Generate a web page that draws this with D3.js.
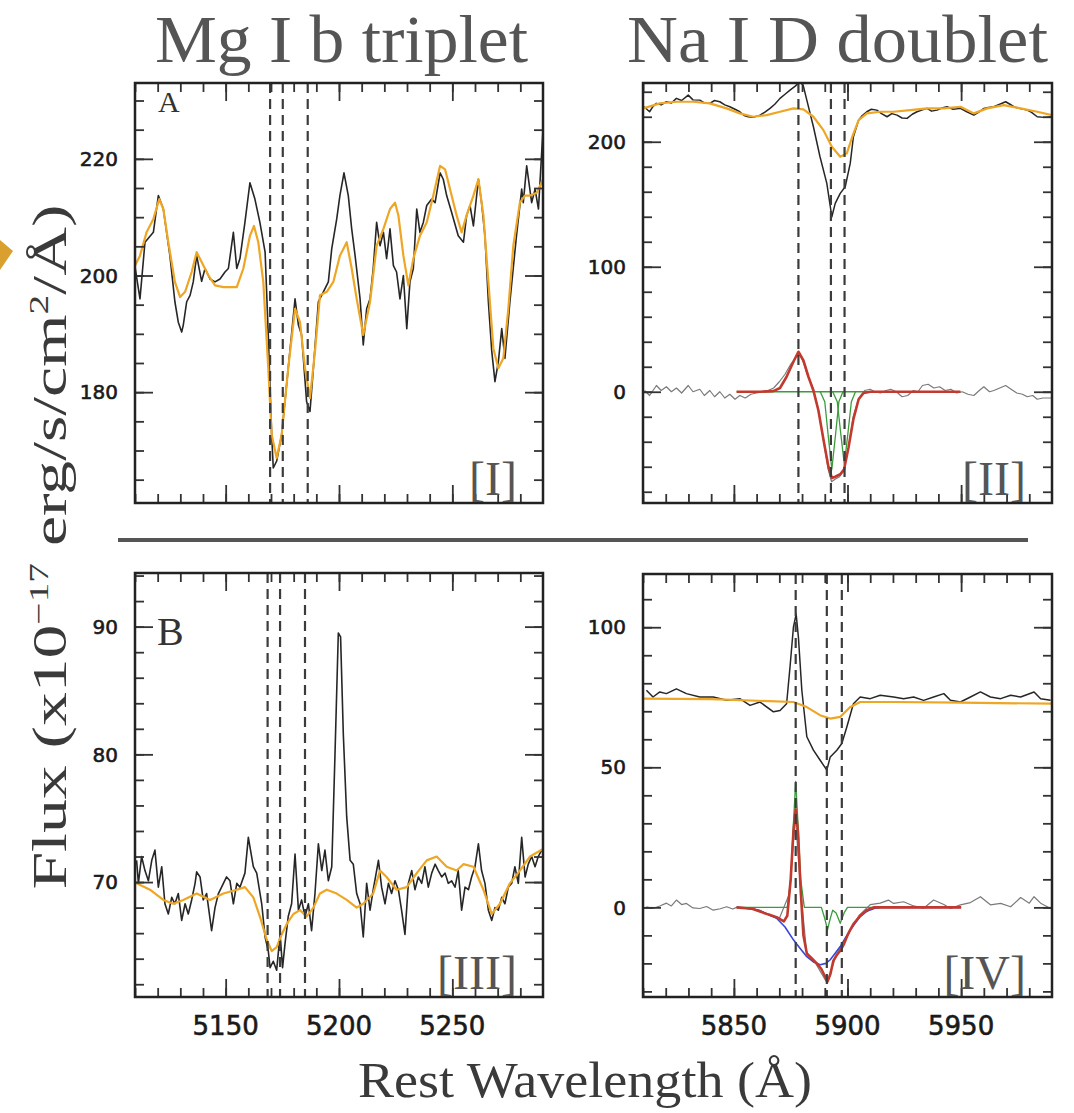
<!DOCTYPE html>
<html>
<head>
<meta charset="utf-8">
<script src="https://cdn.jsdelivr.net/npm/d3@7"></script>
<style>
  body { margin: 0; background: #fff; }
</style>
</head>
<body>
<div id="chart"></div>
<script>
// ---- data: [wavelength (A), flux] ----

// Panel I  (galaxy A, Mg I b region)
const mgObsA = [[5110,201.5],[5112.2,196.0],[5114.4,205.7],[5118.1,207.4],[5120.3,213.7],[5122.5,211.4],[5125.4,203.4],
  [5127.6,195.5],[5129.1,192.0],[5130.6,190.3],[5131.3,191.5],[5132.8,195.5],[5134.3,196.6],[5135.7,198.9],[5137.2,203.4],
  [5139.4,199.0],[5140.9,201.2],[5143.1,199.4],[5145.3,198.9],[5147.5,199.4],[5149.7,200.6],[5151.2,201.2],[5153.4,207.4],
  [5154.9,201.2],[5156.3,202.9],[5158.5,209.1],[5160.7,215.9],[5162.9,213.1],[5165.1,209.1],[5167.4,204.0],[5168.8,189.8],
  [5170.3,172.7],[5171.0,167.0],[5172.5,168.2],[5174.7,172.7],[5177.6,184.1],[5180.6,196.0],[5182.1,191.5],[5183.5,189.8],
  [5185.7,178.4],[5187.2,176.7],[5188.7,184.1],[5190.9,195.5],[5193.1,197.2],[5195.3,198.9],[5196.8,204.6],[5199.0,209.7],
  [5200.4,213.7],[5202.2,217.6],[5204.1,213.7],[5205.6,208.0],[5207.1,203.4],[5209.3,196.0],[5210.7,188.1],[5212.2,194.3],
  [5213.7,196.0],[5215.1,201.2],[5216.6,209.1],[5218.1,205.1],[5219.6,207.4],[5221.0,202.9],[5222.5,208.0],[5224.0,201.7],
  [5225.4,200.6],[5226.9,196.0],[5228.4,200.0],[5229.9,190.9],[5231.3,198.9],[5232.8,201.2],[5234.3,211.4],[5235.7,207.4],
  [5237.2,209.1],[5238.7,212.0],[5240.9,213.1],[5242.4,212.5],[5244.6,217.6],[5246.0,216.5],[5247.5,213.7],[5249.7,210.8],
  [5252.6,206.8],[5254.9,205.7],[5256.3,210.3],[5257.8,212.0],[5259.3,208.5],[5261.5,216.5],[5262.9,212.5],[5264.4,206.8],
  [5265.9,195.5],[5267.4,187.0],[5268.8,181.8],[5270.3,185.2],[5271.8,190.9],[5273.2,185.8],[5275.4,195.5],[5278.3,206.8],
  [5280.6,214.8],[5281.3,212.5],[5282.8,218.8],[5285.0,212.5],[5286.5,214.8],[5288.0,211.4],[5289.4,221.0],[5290,225.0]];

const mgModelA = [[5110,201.7],[5112.2,203.4],[5115.1,207.4],[5118.1,209.7],[5120.7,213.1],[5122.5,211.4],[5124.7,205.7],
  [5127.6,198.9],[5129.9,196.3],[5132.1,197.2],[5135.0,200.6],[5137.2,204.0],[5139.4,202.3],[5142.4,200.0],[5145.3,198.3],
  [5149.0,198.0],[5154.9,198.0],[5157.8,201.2],[5160.7,206.8],[5162.5,208.5],[5164.4,205.7],[5166.6,198.9],[5168.8,184.1],
  [5170.3,172.7],[5172.5,168.7],[5174.7,172.7],[5177.6,184.1],[5180.6,194.3],[5182.8,192.0],[5185.0,184.1],[5187.2,179.0],
  [5189.4,187.0],[5191.6,196.6],[5194.6,197.2],[5197.5,198.9],[5200.4,203.4],[5203.4,205.7],[5205.6,201.2],[5207.8,196.0],
  [5210.7,189.8],[5213.7,195.5],[5216.6,205.1],[5219.6,208.0],[5222.5,211.4],[5224.7,212.5],[5226.2,210.3],[5228.4,203.4],
  [5230.6,198.3],[5232.8,202.9],[5235.7,206.8],[5238.7,209.1],[5241.6,213.7],[5244.6,218.8],[5246.8,218.2],[5249.0,214.8],
  [5251.9,210.3],[5254.1,207.4],[5256.3,210.3],[5259.3,213.7],[5261.5,216.5],[5263.7,210.3],[5265.9,198.9],[5268.1,187.5],
  [5270.3,184.1],[5272.5,185.8],[5274.7,194.3],[5276.9,205.1],[5279.8,212.5],[5282.0,213.7],[5284.3,213.7],[5287.3,214.2],
  [5290,216.5]];

const mgLinesA = [5169.6, 5175.2, 5186.2];

// Panel II  (galaxy A, Na I D region)
const naObsA = [[5810.5,228],[5812.9,224],[5814.5,228.5],[5815.9,230.7],[5818,229.5],[5820.3,232],[5822.5,231],[5824.7,234.7],
  [5827,233],[5829.9,237.3],[5832,233.5],[5835,233.3],[5837,231],[5839.4,230.7],[5841.5,233],[5843.8,232],[5846,229.5],
  [5848.2,228],[5850.5,226],[5852.6,224],[5854.5,221],[5856.3,220],[5858.5,219.5],[5861.5,221.3],[5863.5,223.5],[5865.9,226.7],
  [5868,230],[5870.3,234.7],[5872.5,238],[5874.7,241.3],[5877,244.5],[5879.1,248],[5880.5,245],[5882.1,233.3],[5885,212],
  [5887.9,188],[5890.9,166.7],[5893.1,140],[5894.6,150.7],[5896.8,158.7],[5899,164],[5901.2,182.7],[5902.6,204],[5904.9,217.3],
  [5906.5,221],[5908.5,224],[5910.5,226],[5912.9,225.3],[5915,222.5],[5917.4,220],[5919.5,222.5],[5921.8,221.3],[5924,219],
  [5926.2,218.7],[5928.5,222],[5930.6,224],[5933,225.5],[5935,226.7],[5937,224.5],[5939.4,225.3],[5941.5,227],[5943.8,228],
  [5946.5,226],[5949.7,226.7],[5952.5,224],[5955.6,221.3],[5958,224],[5960,226.7],[5962,227.5],[5964.4,228],[5967,230],
  [5969.6,232],[5971.5,230],[5973.2,228],[5976,226.5],[5979.1,225.3],[5981,223.5],[5983.5,220],[5986.5,219.5],[5990,220]];

const naModelA = [[5810,226.7],[5817.4,230.7],[5824.7,232],[5832.1,232],[5839.4,230.7],[5846.8,226.7],[5852.6,222.7],
  [5858.5,220],[5864.4,221.3],[5870.3,224],[5876.2,226.7],[5880.6,225.9],[5885,220],[5889.4,209.3],[5893.1,196],[5896.8,188],
  [5899.7,190.7],[5902.1,204],[5904.9,217.3],[5908.5,222.7],[5914.4,224],[5920.3,224],[5927.6,225.3],[5935,226.7],
  [5942.4,226.7],[5949.7,228],[5955.6,222.7],[5961.5,226.7],[5968.8,229.3],[5976.2,226.7],[5983.5,224],[5990,221.3]];

const naResidA = [[5810.7,1],[5812.9,-3],[5815.9,5],[5818,1],[5820.3,4],[5822.5,0],[5824.7,3],[5827,-1],[5829.9,5],[5832,0],
  [5835,2],[5837,-3],[5839.4,1],[5841.5,-4],[5843.8,0],[5846,-5],[5848.2,-2],[5850.5,-6],[5852.6,-3],[5855,-5],[5857.5,-2],
  [5860,-1],[5862.5,0],[5865,1],[5867.5,3],[5870,8],[5872.5,14],[5875,22],[5877.5,28],[5879,30],[5880.5,24],[5882.5,13],
  [5885,2],[5887,-13],[5889.5,-40],[5891.5,-62],[5893,-72],[5894.5,-70],[5896.5,-68],[5898.5,-63],[5900.5,-44],[5902.5,-20],
  [5905,-5],[5907.5,1],[5910,2],[5912,0],[5914.5,-1],[5917,1],[5919,2],[5921.5,0],[5924,-4],[5926.5,-3],[5929,1],[5931,0],
  [5933,5],[5935.5,6],[5938,3],[5940.5,4],[5943,1],[5945.5,2],[5948,-1],[5950.5,0],[5953,-2],[5955.6,-3],[5958,1],[5960,4],
  [5962.5,0],[5964.4,1],[5967,3],[5969.6,5],[5972,2],[5974.5,-1],[5977,-2],[5979.1,-4],[5981.5,-3],[5983.5,-6],[5986,-5],
  [5990,-5]];

const naFitA = [[5851.2,0],[5861.5,0],[5867.4,0.5],[5870.3,3],[5873.2,12],[5876.2,24],[5878.4,32],[5880.6,25],[5882.8,12],
  [5885,1],[5887.2,-15],[5889.4,-38],[5891.6,-60],[5893.1,-69],[5894.6,-68],[5896.8,-66],[5898.5,-62],[5900.4,-45],
  [5902.6,-22],[5904.9,-6],[5907.1,-1],[5910,0],[5949.7,0]];

const naCompBaseA = [[5851.2,0],[5949.7,0]];
const naCompD2A = [[5888,0],[5890,-8],[5891.5,-35],[5893.1,-62],[5894.7,-35],[5896.2,-8],[5898,0]];
const naCompD1A = [[5893.5,0],[5895.5,-8],[5897,-33],[5898.6,-58],[5900.2,-33],[5901.7,-8],[5903.5,0]];

const naLinesA = [5878.4, 5892.7, 5898.7];

// Panel III  (galaxy B, Mg I b region)
const mgObsB = [[5110.7,71.7],[5111.5,69.9],[5112.9,72.0],[5114.4,70.9],[5115.9,70.1],[5117.4,71.7],[5118.8,72.5],[5120.3,69.6],
  [5121.8,71.2],[5123.2,68.3],[5124.7,67.5],[5126.2,68.8],[5127.6,68.3],[5129.1,69.1],[5130.6,67.0],[5132.1,68.3],[5133.5,67.5],
  [5135.0,68.6],[5136.5,69.9],[5137.2,70.8],[5138.7,70.4],[5140.1,68.6],[5141.6,69.1],[5143.8,66.2],[5145.3,68.0],[5146.8,69.1],
  [5149.0,69.9],[5150.4,70.4],[5151.9,70.1],[5153.4,68.3],[5154.9,69.9],[5156.3,69.6],[5158.5,70.7],[5160.0,73.5],[5162.2,71.2],
  [5163.7,70.7],[5165.9,68.3],[5167.4,65.7],[5168.8,64.6],[5169.6,63.3],[5171.0,63.8],[5172.5,63.1],[5174.0,65.9],[5175.1,63.3],
  [5176.2,65.2],[5177.6,67.3],[5179.1,68.3],[5180.6,72.2],[5182.1,67.8],[5183.5,68.6],[5185.0,67.3],[5186.5,68.3],[5187.9,66.2],
  [5189.4,69.1],[5190.9,73.0],[5192.4,70.9],[5193.8,72.5],[5195.3,70.1],[5196.8,71.2],[5198.2,79.8],[5199.7,89.5],[5200.7,89.2],
  [5201.9,81.6],[5203.4,75.1],[5204.9,71.7],[5206.3,71.4],[5207.8,69.1],[5209.3,68.3],[5210.7,65.7],[5212.2,69.9],[5213.7,67.8],
  [5215.1,69.4],[5217.4,71.7],[5218.8,69.6],[5220.3,68.3],[5221.8,69.9],[5223.2,69.1],[5224.7,70.1],[5226.2,69.4],[5227.6,67.8],
  [5229.1,65.9],[5230.6,69.9],[5232.1,70.9],[5233.5,69.4],[5235.0,70.4],[5236.5,69.9],[5237.9,71.2],[5239.4,69.6],[5240.9,70.7],
  [5242.4,71.4],[5243.8,70.9],[5245.3,70.4],[5246.8,70.7],[5248.2,69.9],[5249.7,70.1],[5251.2,69.6],[5252.6,70.9],[5254.1,67.8],
  [5255.6,69.6],[5257.1,69.4],[5258.5,70.4],[5260.0,71.2],[5261.5,73.0],[5262.9,70.9],[5264.4,69.9],[5265.9,67.8],[5267.4,67.0],
  [5268.8,68.0],[5270.3,67.8],[5271.8,68.8],[5273.2,68.3],[5274.7,69.6],[5276.2,69.9],[5277.6,71.2],[5279.1,69.9],[5280.6,73.5],
  [5282.1,70.4],[5283.5,71.4],[5285.0,72.0],[5286.5,71.2],[5287.9,72.0],[5289.4,72.5]];

const mgModelB = [[5110.7,69.9],[5116.6,69.4],[5122.5,68.6],[5126.9,68.3],[5131.3,68.6],[5137.2,69.1],[5143.1,68.6],[5149.0,69.1],
  [5154.9,69.4],[5158.5,69.6],[5162.2,68.8],[5165.1,67.3],[5168.1,65.5],[5170.3,64.6],[5172.5,64.9],[5174.7,65.9],[5176.9,66.7],
  [5179.9,67.5],[5182.8,67.8],[5185.7,67.3],[5188.7,68.0],[5191.6,69.1],[5194.6,69.4],[5199.0,69.1],[5203.4,68.6],[5207.8,68.0],
  [5210.7,68.3],[5215.1,69.1],[5218.1,70.9],[5221.0,70.4],[5225.4,69.4],[5229.9,69.6],[5234.3,70.7],[5238.7,71.7],[5243.1,72.0],
  [5247.5,71.2],[5251.9,70.9],[5254.9,71.4],[5259.3,71.2],[5263.7,69.4],[5267.4,67.5],[5271.0,68.3],[5275.4,69.9],[5279.8,70.9],
  [5284.3,72.0],[5290,72.6]];

const mgLinesB = [5168.5, 5174.0, 5185.0];

// Panel IV  (galaxy B, Na I D region)
const naObsB = [[5811.5,77.5],[5814.4,75.1],[5817.4,76.9],[5820.3,76.3],[5824.7,78.0],[5829.1,76.3],[5835,75.1],[5840.9,75.1],
  [5846.8,73.9],[5852.6,74.5],[5857.1,72.1],[5861.5,73.3],[5867.4,69.8],[5870.3,70.3],[5873.2,72.7],[5874.7,85.8],[5876.2,100.0],
  [5877.4,104.7],[5878.4,96.4],[5879.9,77.5],[5882.1,60.9],[5885,56.1],[5887.9,52.6],[5890.9,49.0],[5892.4,53.7],[5895.3,56.1],
  [5897.5,58.5],[5899.7,64.4],[5902.6,72.7],[5905.6,75.1],[5910,74.5],[5914.4,75.7],[5920.3,75.1],[5924.7,74.5],[5929.1,75.1],
  [5933.5,73.9],[5937.9,75.1],[5942.4,76.3],[5945.3,73.9],[5949.7,73.3],[5954.1,75.1],[5958.5,76.9],[5962.9,75.1],[5967.4,74.5],
  [5971.8,75.7],[5976.2,75.1],[5982.1,76.9],[5985,74.5],[5989.4,73.9]];

const naModelB = [[5810,74.5],[5840,74.3],[5876.2,73.3],[5882.1,71.5],[5887.9,68.6],[5892.4,67.4],[5896.8,68.0],[5901.2,71.5],
  [5905.6,73.3],[5920.3,73.3],[5950,73.1],[5990,72.7]];

const naResidB = [[5811.5,0.2],[5814.4,-0.4],[5817.4,0.5],[5820.3,1.5],[5822.5,0.5],[5824.7,2.6],[5827,1],[5829.1,1.4],
  [5832,-0.2],[5835,-0.4],[5838,0.3],[5840.9,-1],[5844,-0.5],[5846.8,0.2],[5849.5,-0.6],[5851.2,0],[5856,-0.5],[5861.5,-1],
  [5866,-3],[5870,-4],[5874.5,5],[5877,33],[5879.5,5],[5882,-16],[5886,-20],[5891,-27],[5895,-17],[5900,-10],[5905,-3],
  [5910,1],[5914.4,1.5],[5918,2.6],[5920.3,1.4],[5924.7,2],[5929.1,0.5],[5933.5,-0.3],[5937.9,2.6],[5942.4,1],[5945.3,-0.4],
  [5949.7,0.9],[5954.1,1.7],[5958.5,3.8],[5962.9,0.9],[5967.4,1.4],[5971.8,0.2],[5976.2,3.5],[5980,1.5],[5982.1,3.8],[5985,1.5],
  [5989.4,-0.4]];

const naFitB = [[5851.2,0],[5858,-0.5],[5861.5,-1.5],[5865,-2.5],[5868.8,-3.5],[5872,-5],[5873.5,-3],[5875,10],[5876.2,27],
  [5877.2,35],[5878.2,27],[5879.4,6],[5880.6,-10],[5882.1,-16.5],[5884,-18],[5886.5,-20],[5888.5,-22],[5890,-24.5],
  [5891.2,-26.5],[5892.4,-24],[5893.8,-19],[5895.3,-17],[5896.8,-15.5],[5898.5,-13],[5900,-10],[5901.2,-8],[5902.6,-6],
  [5905.6,-3],[5908.5,-1],[5911.5,0],[5950,0]];

const naBroadB = [[5851.2,0],[5858.5,-0.5],[5861.5,-1.3],[5865,-2.5],[5868.8,-3.9],[5872.5,-7],[5876.2,-11.6],[5879,-14.5],
  [5882.1,-17.6],[5885,-19.5],[5888,-20.5],[5890.5,-20],[5892.4,-18.7],[5894.5,-16.5],[5896.8,-14],[5899,-11],[5901.2,-8.1],
  [5903.5,-5.5],[5905.6,-3.3],[5908,-1.7],[5910,-0.9],[5912,-0.3],[5915,0],[5950,0]];

const naCompB = [[5851.2,0],[5873.5,0],[5875,10],[5876.2,30],[5877.2,45],[5878.2,30],[5879.4,10],[5881,0],[5888.5,0],
  [5890,-4],[5891.2,-8],[5892.4,-4],[5893.5,-1],[5895,-2],[5896.8,-5.7],[5898.5,-2],[5900,0],[5950,0]];

const naLinesB = [5877.2, 5890.9, 5897.5];

// axis ticks
const mgXTicks = [5150, 5200, 5250];
const naXTicks = [5850, 5900, 5950];
const mgAYTicks = [180, 200, 220];
const naAYTicks = [0, 100, 200];
const mgBYTicks = [70, 80, 90];
const naBYTicks = [0, 50, 100];

// ---- drawing ----
const colors = { obs: '#262626', model: '#eea624', resid: '#7a7a7a', fit: '#c23a2e', comp: '#3a9c3a', broad: '#3547d8' };

const svg = d3.select('#chart')
    .append('svg')
    .attr('width', 1074)
    .attr('height', 1113);

function drawPanel(p) {
    const x = d3.scaleLinear().domain(p.xDomain).range([p.left, p.right]);
    const y = d3.scaleLinear().domain(p.yDomain).range([p.bottom, p.top]);
    const w = p.right - p.left, h = p.bottom - p.top;

    svg.append('clipPath').attr('id', 'clip-' + p.id)
        .append('rect')
        .attr('x', p.left).attr('y', p.top).attr('width', w).attr('height', h);

    const plot = svg.append('g').attr('clip-path', 'url(#clip-' + p.id + ')');
    const line = d3.line().x(d => x(d[0])).y(d => y(d[1]));

    p.series.forEach(s => {
        plot.append('path')
            .datum(s.data)
            .attr('d', line)
            .attr('fill', 'none')
            .attr('stroke', s.color)
            .attr('stroke-width', s.width)
            .attr('stroke-linejoin', 'round');
    });

    plot.selectAll('.marker')
        .data(p.lines)
        .enter().append('line')
        .attr('x1', d => x(d)).attr('x2', d => x(d))
        .attr('y1', p.top).attr('y2', p.bottom)
        .attr('stroke', '#3c3c3c')
        .attr('stroke-width', 2.2)
        .attr('stroke-dasharray', '10,6');

    // ticks on all four sides, pointing inward
    const xMinor = d3.range(Math.ceil(p.xDomain[0] / 10) * 10, p.xDomain[1], 10);
    const yMinor = d3.range(Math.ceil(p.yDomain[0] / p.yStep) * p.yStep, p.yDomain[1], p.yStep);
    const axes = [
        [d3.axisBottom(x), 'translate(0,' + p.bottom + ')', xMinor, p.xTicks],
        [d3.axisTop(x), 'translate(0,' + p.top + ')', xMinor, p.xTicks],
        [d3.axisLeft(y), 'translate(' + p.left + ',0)', yMinor, p.yTicks],
        [d3.axisRight(y), 'translate(' + p.right + ',0)', yMinor, p.yTicks]
    ];
    axes.forEach(a => {
        [[a[2], 9], [a[3], 18]].forEach(t => {
            const ax = svg.append('g')
                .attr('transform', a[1])
                .call(a[0].tickValues(t[0]).tickSize(-t[1]).tickSizeOuter(0).tickFormat(''));
            ax.select('.domain').remove();
            ax.selectAll('line').attr('stroke', '#333').attr('stroke-width', 1.8);
        });
    });

    svg.append('rect')
        .attr('x', p.left).attr('y', p.top).attr('width', w).attr('height', h)
        .attr('fill', 'none').attr('stroke', '#222').attr('stroke-width', 2.5);

    svg.append('g').selectAll('text')
        .data(p.yTicks)
        .enter().append('text')
        .attr('x', p.left - 17)
        .attr('y', d => y(d))
        .attr('dy', '0.36em')
        .attr('text-anchor', 'end')
        .style('font-family', '"DejaVu Sans", sans-serif')
        .style('font-size', '20px')
        .attr('fill', '#1a1a1a')
        .attr('stroke', '#1a1a1a')
        .attr('stroke-width', 0.6)
        .text(d => d);

    if (p.xLabels) {
        svg.append('g').selectAll('text')
            .data(p.xTicks)
            .enter().append('text')
            .attr('x', d => x(d))
            .attr('y', p.bottom + 38)
            .attr('text-anchor', 'middle')
            .style('font-family', '"DejaVu Sans", sans-serif')
            .style('font-size', '26px')
            .attr('fill', '#1a1a1a')
            .attr('stroke', '#1a1a1a')
            .attr('stroke-width', 0.6)
            .text(d => d);
    }

    svg.append('text')
        .attr('x', p.tagX).attr('y', p.tagY)
        .style('font-family', '"Liberation Serif", serif')
        .style('font-size', p.tagSize + 'px')
        .attr('fill', '#333')
        .text(p.tag);

    svg.append('text')
        .attr('x', p.right - 26).attr('y', p.bottom - 8)
        .attr('text-anchor', 'end')
        .style('font-family', '"Liberation Serif", serif')
        .style('font-size', '48px')
        .attr('fill', '#555')
        .text(p.roman);
}

drawPanel({
    id: 'mgA', left: 135, right: 543, top: 83, bottom: 503,
    xDomain: [5110, 5290], yDomain: [161, 233], yStep: 5,
    xTicks: mgXTicks, yTicks: mgAYTicks, xLabels: false,
    lines: mgLinesA, tag: 'A', tagX: 158, tagY: 112, tagSize: 30, roman: '[I]',
    series: [
        { data: mgObsA, color: colors.obs, width: 1.6 },
        { data: mgModelA, color: colors.model, width: 2.2 }
    ]
});

drawPanel({
    id: 'naA', left: 643, right: 1052, top: 83, bottom: 503,
    xDomain: [5810, 5990], yDomain: [-89, 247], yStep: 20,
    xTicks: naXTicks, yTicks: naAYTicks, xLabels: false,
    lines: naLinesA, tag: '', tagX: 0, tagY: 0, tagSize: 30, roman: '[II]',
    series: [
        { data: naObsA, color: colors.obs, width: 1.5 },
        { data: naModelA, color: colors.model, width: 2.2 },
        { data: naResidA, color: colors.resid, width: 1.2 },
        { data: naCompBaseA, color: colors.comp, width: 1.3 },
        { data: naCompD2A, color: colors.comp, width: 1.3 },
        { data: naCompD1A, color: colors.comp, width: 1.3 },
        { data: naFitA, color: colors.fit, width: 2.6 }
    ]
});

drawPanel({
    id: 'mgB', left: 135, right: 543, top: 573, bottom: 997,
    xDomain: [5110, 5290], yDomain: [61, 94.2], yStep: 2,
    xTicks: mgXTicks, yTicks: mgBYTicks, xLabels: true,
    lines: mgLinesB, tag: 'B', tagX: 157, tagY: 645, tagSize: 40, roman: '[III]',
    series: [
        { data: mgObsB, color: colors.obs, width: 1.6 },
        { data: mgModelB, color: colors.model, width: 2.2 }
    ]
});

drawPanel({
    id: 'naB', left: 643, right: 1052, top: 574, bottom: 997,
    xDomain: [5810, 5990], yDomain: [-32, 119], yStep: 10,
    xTicks: naXTicks, yTicks: naBYTicks, xLabels: true,
    lines: naLinesB, tag: '', tagX: 0, tagY: 0, tagSize: 30, roman: '[IV]',
    series: [
        { data: naObsB, color: colors.obs, width: 1.5 },
        { data: naModelB, color: colors.model, width: 2.2 },
        { data: naResidB, color: colors.resid, width: 1.2 },
        { data: naCompB, color: colors.comp, width: 1.3 },
        { data: naBroadB, color: colors.broad, width: 1.6 },
        { data: naFitB, color: colors.fit, width: 2.6 }
    ]
});

// titles
svg.append('text')
    .attr('x', 155).attr('y', 62)
    .attr('textLength', 373).attr('lengthAdjust', 'spacingAndGlyphs')
    .style('font-family', '"Liberation Serif", serif')
    .style('font-size', '68px')
    .attr('fill', '#555')
    .text('Mg I b triplet');

svg.append('text')
    .attr('x', 627).attr('y', 62)
    .attr('textLength', 421).attr('lengthAdjust', 'spacingAndGlyphs')
    .style('font-family', '"Liberation Serif", serif')
    .style('font-size', '68px')
    .attr('fill', '#555')
    .text('Na I D doublet');

// separator between galaxy A and B
svg.append('line')
    .attr('x1', 118).attr('x2', 1028)
    .attr('y1', 540).attr('y2', 540)
    .attr('stroke', '#555').attr('stroke-width', 4);

// axis titles
const yTitle = svg.append('text')
    .attr('transform', 'translate(66,547) rotate(-90)')
    .attr('text-anchor', 'middle')
    .attr('textLength', 685).attr('lengthAdjust', 'spacingAndGlyphs')
    .style('font-family', '"Liberation Serif", serif')
    .style('font-size', '48px')
    .attr('fill', '#3a3a3a');
yTitle.append('tspan').text('Flux (x10');
yTitle.append('tspan').attr('dy', -18).style('font-size', '28px').text('−17');
yTitle.append('tspan').attr('dy', 18).text(' erg/s/cm');
yTitle.append('tspan').attr('dy', -18).style('font-size', '28px').text('2');
yTitle.append('tspan').attr('dy', 18).text('/Å)');

svg.append('text')
    .attr('x', 585).attr('y', 1097)
    .attr('text-anchor', 'middle')
    .attr('textLength', 454).attr('lengthAdjust', 'spacingAndGlyphs')
    .style('font-family', '"Liberation Serif", serif')
    .style('font-size', '50px')
    .attr('fill', '#3a3a3a')
    .text('Rest Wavelength (Å)');

// small cropped arrow at the left edge of the original figure
svg.append('path')
    .attr('d', 'M0,240 L13,251 L0,270 Z')
    .attr('fill', '#d9a030');
</script>
</body>
</html>
